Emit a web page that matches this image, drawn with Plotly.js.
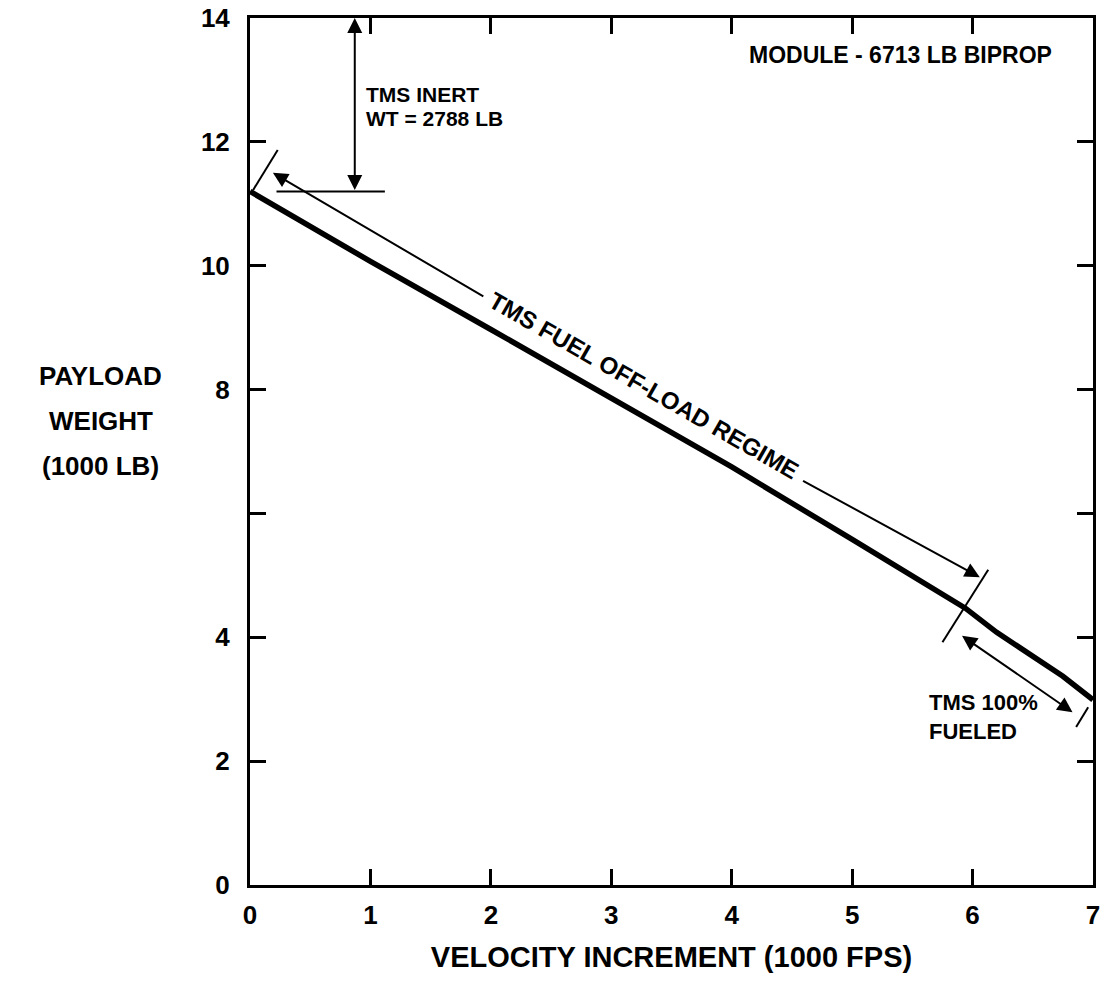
<!DOCTYPE html>
<html>
<head>
<meta charset="utf-8">
<script src="https://cdn.plot.ly/plotly-3.0.1.min.js"></script>
<style>html,body{margin:0;padding:0;background:#fff;}#chart{width:1102px;height:981px;}</style>
</head>
<body>
<div id="chart"></div>
<script>
// Payload weight curve (1000 LB) vs velocity increment (1000 FPS)
const velocity = [0, 1, 2, 3, 4, 5, 5.94, 6.2, 6.5, 6.75, 7];
const payload  = [11.2, 10.07, 8.97, 7.86, 6.75, 5.58, 4.47, 4.08, 3.7, 3.37, 2.99];

const xTickVals = [0, 1, 2, 3, 4, 5, 6, 7];
const xTickText = ['0', '1', '2', '3', '4', '5', '6', '7'];
const yTickVals = [0, 2, 4, 6, 8, 10, 12, 14];
const yTickText = ['0', '2', '4', '', '8', '10', '12', '14'];

// Annotation guides (data coordinates)
const inertX = 0.87, inertTop = 14, inertBottom = 11.2;
const inertBar = [0.22, 1.12];
const offloadArrowA = {tip: [0.19, 11.5], tail: [1.95, 9.49]};
const offloadArrowB = {tip: [6.06, 4.97], tail: [4.58, 6.54]};
const fueledArrow = {a: [5.90, 4.04], b: [6.83, 2.79]};
const slashes = [
  [[0.025, 11.22], [0.23, 11.87]],
  [[6.13, 5.09], [5.75, 3.92]],
  [[6.96, 2.87], [6.86, 2.55]]
];

const FONT = 'Liberation Sans, Arial, sans-serif';
const bold = (size) => ({family: FONT, size: size, color: '#000', weight: 700});

const trace = {
  x: velocity, y: payload, type: 'scatter', mode: 'lines',
  line: {color: '#000', width: 5.5}, hoverinfo: 'skip', showlegend: false
};

const shapes = [
  {type: 'line', xref: 'x', yref: 'y', x0: inertBar[0], x1: inertBar[1], y0: inertBottom, y1: inertBottom,
   line: {color: '#000', width: 2}}
].concat(slashes.map(s => ({type: 'line', xref: 'x', yref: 'y', x0: s[0][0], y0: s[0][1], x1: s[1][0], y1: s[1][1],
   line: {color: '#000', width: 2}})));

function arrow(tip, tail, both) {
  return {x: tip[0], y: tip[1], ax: tail[0], ay: tail[1], xref: 'x', yref: 'y', axref: 'x', ayref: 'y',
    text: '', showarrow: true, arrowhead: 2, arrowsize: 1.5, arrowwidth: 2, arrowcolor: '#000',
    arrowside: both ? 'end+start' : 'end', standoff: 0, startstandoff: 0};
}

const annotations = [
  arrow([inertX, inertTop], [inertX, inertBottom], true),
  arrow(offloadArrowA.tip, offloadArrowA.tail, false),
  arrow(offloadArrowB.tip, offloadArrowB.tail, false),
  arrow(fueledArrow.b, fueledArrow.a, true),
  {x: 0.95, y: 12.57, xref: 'x', yref: 'y', xanchor: 'left', yanchor: 'middle', align: 'left', showarrow: false,
   text: 'TMS INERT', font: bold(21), yshift: 12},
  {x: 0.95, y: 12.57, xref: 'x', yref: 'y', xanchor: 'left', yanchor: 'middle', align: 'left', showarrow: false,
   text: 'WT = 2788 LB', font: bold(21), yshift: -12},
  {x: 5.4, y: 13.4, xref: 'x', yref: 'y', xanchor: 'center', yanchor: 'middle', showarrow: false,
   text: 'MODULE - 6713 LB BIPROP', font: bold(23)},
  {x: 3.27, y: 8.06, xref: 'x', yref: 'y', xanchor: 'center', yanchor: 'middle', showarrow: false,
   text: 'TMS FUEL OFF-LOAD REGIME', textangle: 29.7, font: bold(24)},
  {x: 5.625, y: 2.72, xref: 'x', yref: 'y', xanchor: 'left', yanchor: 'middle', align: 'left', showarrow: false,
   text: 'TMS 100%<br>FUELED', font: bold(22)},
  {x: -0.177, y: 0.587, xref: 'paper', yref: 'paper', xanchor: 'center', yanchor: 'middle', showarrow: false,
   text: 'PAYLOAD', font: bold(26)},
  {x: -0.177, y: 0.535, xref: 'paper', yref: 'paper', xanchor: 'center', yanchor: 'middle', showarrow: false,
   text: 'WEIGHT', font: bold(26)},
  {x: -0.177, y: 0.483, xref: 'paper', yref: 'paper', xanchor: 'center', yanchor: 'middle', showarrow: false,
   text: '(1000 LB)', font: bold(26)}
];

const layout = {
  width: 1102, height: 981,
  margin: {l: 250, r: 9, t: 18, b: 96},
  paper_bgcolor: '#fff', plot_bgcolor: '#fff',
  xaxis: {
    range: [0, 7], tickvals: xTickVals, ticktext: xTickText,
    showgrid: false, zeroline: false, showline: true, linecolor: '#000', linewidth: 3, mirror: 'ticks',
    ticks: 'inside', ticklen: 16, tickwidth: 3, tickcolor: '#000', tickfont: bold(26),
    ticklabelstandoff: 5,
    title: {text: 'VELOCITY INCREMENT (1000 FPS)', font: bold(29), standoff: 18}
  },
  yaxis: {
    range: [0, 14], tickvals: yTickVals, ticktext: yTickText,
    showgrid: false, zeroline: false, showline: true, linecolor: '#000', linewidth: 3, mirror: 'ticks',
    ticks: 'inside', ticklen: 16, tickwidth: 3, tickcolor: '#000', tickfont: bold(26),
    ticklabelstandoff: 12
  },
  shapes: shapes,
  annotations: annotations,
  showlegend: false
};

Plotly.newPlot('chart', [trace], layout, {displayModeBar: false, staticPlot: true});
</script>
</body>
</html>
